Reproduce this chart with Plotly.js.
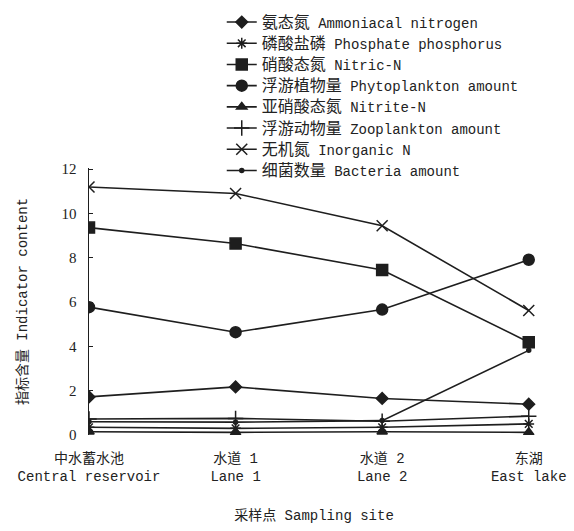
<!DOCTYPE html>
<html><head><meta charset="utf-8">
<script src="https://cdn.plot.ly/plotly-3.0.1.min.js"></script>
<style>body{margin:0;background:#fff}#c{width:574px;height:531px}</style>
</head><body><div id="c"></div>
<script>
const sites = ["中水蓄水池<br>Central reservoir", "水道 1<br>Lane 1", "水道 2<br>Lane 2", "东湖<br>East lake"];
const ammonia = [1.72, 2.17, 1.65, 1.39];
const phosphate = [0.35, 0.3, 0.35, 0.5];
const nitric = [9.36, 8.64, 7.45, 4.19];
const phyto = [5.77, 4.64, 5.66, 7.91];
const nitrite = [0.15, 0.12, 0.15, 0.12];
const zoo = [0.72, 0.75, 0.62, 0.85];
const inorganic = [11.19, 10.9, 9.44, 5.62];
const bacteria = [0.6, 0.58, 0.65, 3.82];
const namesZh = ["氨态氮", "磷酸盐磷", "硝酸态氮", "浮游植物量", "亚硝酸态氮", "浮游动物量", "无机氮", "细菌数量"];
const namesEn = ["Ammoniacal nitrogen", "Phosphate phosphorus", "Nitric-N", "Phytoplankton amount", "Nitrite-N", "Zooplankton amount", "Inorganic N", "Bacteria amount"];
const series = [ammonia, phosphate, nitric, phyto, nitrite, zoo, inorganic, bacteria];
const symbols = ["diamond", "asterisk-open", "square", "circle", "triangle-up", "cross-thin-open", "x-thin-open", "circle"];
const sizes = [9, 9, 11, 11, 9, 11, 11, 4];
const col = "#1e1e1e";
const xs = sites.map((s, i) => i);
const traces = series.map((y, i) => ({
  x: xs, y: y, name: '<span style="font-size:16px">' + namesZh[i] + '</span> ' + namesEn[i],
  type: "scatter", mode: "lines+markers",
  line: {color: col, width: 1.6},
  marker: {symbol: symbols[i], size: sizes[i], color: col, line: {color: col, width: 1.5}}
}));
const fam = "Liberation Mono, Noto Sans CJK SC, monospace";
const layout = {
  width: 574, height: 531,
  margin: {l: 89, r: 35, t: 168, b: 96, autoexpand: false},
  paper_bgcolor: "#fff", plot_bgcolor: "#fff",
  font: {family: fam, size: 14, color: "#222"}, showlegend: true,
  legend: {x: 0.295, y: 1.605, xanchor: "left", yanchor: "top", bgcolor: "rgba(0,0,0,0)",
    font: {family: fam, size: 14, color: "#222"}, tracegroupgap: 0},
  xaxis: {range: [0, 3.07], tickvals: xs, ticktext: sites, showgrid: false, zeroline: false, showline: false,
    ticks: "outside", ticklen: 10, tickcolor: "rgba(0,0,0,0)", tickfont: {family: fam, size: 14},
    title: {text: "采样点 Sampling site", font: {family: fam, size: 14}, standoff: 26}},
  yaxis: {range: [0, 12.05], dtick: 2, showgrid: false, zeroline: false, showline: true, linecolor: col, linewidth: 1.5,
    ticks: "inside", ticklen: 4, tickcolor: col, ticklabelstandoff: 8,
    tickfont: {family: "Liberation Serif, serif", size: 15},
    title: {text: "指标含量 Indicator content", font: {family: fam, size: 14}, standoff: 30}}
};
Plotly.newPlot("c", traces, layout, {displayModeBar: false, staticPlot: true});
</script></body></html>
